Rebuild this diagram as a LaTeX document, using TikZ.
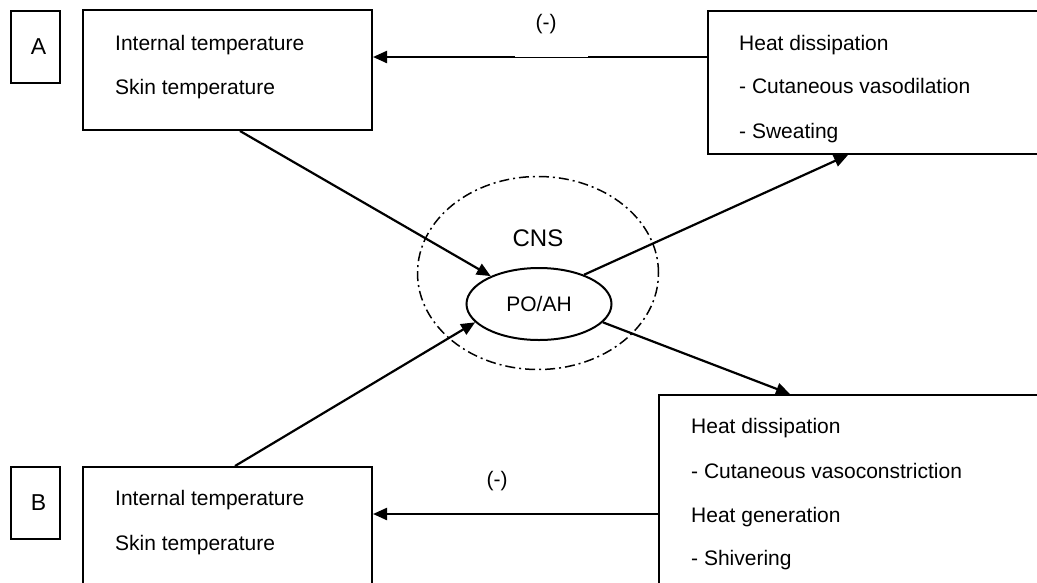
\documentclass[tikz,border=0pt]{standalone}
\usepackage{fontspec}
\setmainfont{Liberation Sans}
\usetikzlibrary{arrows.meta,calc,shapes.geometric}
\begin{document}
\begin{tikzpicture}[x=1pt,y=1pt,
  box/.style={draw, line width=2pt, rectangle, inner sep=0pt, anchor=north west},
  lbl/.style={draw, line width=2pt, rectangle, inner sep=0pt, anchor=north west,
    minimum width=49pt, minimum height=72pt, font=\fontsize{23}{27}\selectfont},
  txt/.style={anchor=base west, inner sep=0pt, font=\fontsize{21}{25}\selectfont},
  arr/.style={line width=2.2pt, -{Triangle[length=14pt,width=12pt]}},
]
\useasboundingbox (0,0) rectangle (1037,-582);
\clip (0,0) rectangle (1037,-582);

% label boxes
\node[lbl] (la) at (10,-10) {\hspace*{6pt}A};
\node[lbl] (lb) at (10,-466) {\hspace*{6pt}B};

% main boxes
\node[box, minimum width=289pt, minimum height=120pt] (boxA) at (82,-9) {};
\node[txt] (a1) at (115,-50) {Internal temperature};
\node[txt] (a2) at (115,-94) {Skin temperature};

\node[box, minimum width=289pt, minimum height=200pt] (boxB) at (82,-466) {};
\node[txt] (b1) at (115,-505) {Internal temperature};
\node[txt] (b2) at (115,-550) {Skin temperature};

\node[box, minimum width=400pt, minimum height=143pt] (tr) at (707,-10) {};
\node[txt] (t1) at (739,-50) {Heat dissipation};
\node[txt] (t2) at (739,-93) {- Cutaneous vasodilation};
\node[txt] (t3) at (739,-138) {- Sweating};

\node[box, minimum width=450pt, minimum height=250pt] (br) at (658,-394) {};
\node[txt] (r1) at (691,-433) {Heat dissipation};
\node[txt] (r2) at (691,-478) {- Cutaneous vasoconstriction};
\node[txt] (r3) at (691,-522) {Heat generation};
\node[txt] (r4) at (691,-565) {- Shivering};

% CNS
\node[ellipse, draw, line width=1.5pt, dash pattern=on 10pt off 4pt on 2pt off 4pt,
  minimum width=241pt, minimum height=193pt, inner sep=0pt] (cns) at (538,-273) {};
\node[font=\fontsize{24}{28}\selectfont, anchor=base] (cnst) at (538,-246) {CNS};
\node[ellipse, draw, line width=2pt, fill=white, minimum width=145pt, minimum height=72pt,
  inner sep=0pt, font=\fontsize{21}{25}\selectfont] (poah) at (539,-304) {PO/AH};

% arrows
\draw[arr] ($(boxA.south west)+(158,0)$) -- (poah);
\draw[arr] ($(boxB.north west)+(153,0)$) -- (poah.196);
\draw[arr] (poah.33) -- ($(tr.south west)+(141,0)$);
\draw[arr] (poah.-16) -- ($(br.north west)+(132,0)$);

\coordinate (ya) at (0,-57);
\coordinate (yb) at (0,-514);
\draw[arr] (tr.west |- ya) -- (boxA.east |- ya);
\draw[arr] (br.west |- yb) -- (boxB.east |- yb);
\fill[white] (515,-54.5) rectangle (588,-56.9);

\node[font=\fontsize{21}{25}\selectfont] (m1) at (546,-24) {(-)};
\node[font=\fontsize{21}{25}\selectfont] (m2) at (497,-481) {(-)};
\end{tikzpicture}
\end{document}
